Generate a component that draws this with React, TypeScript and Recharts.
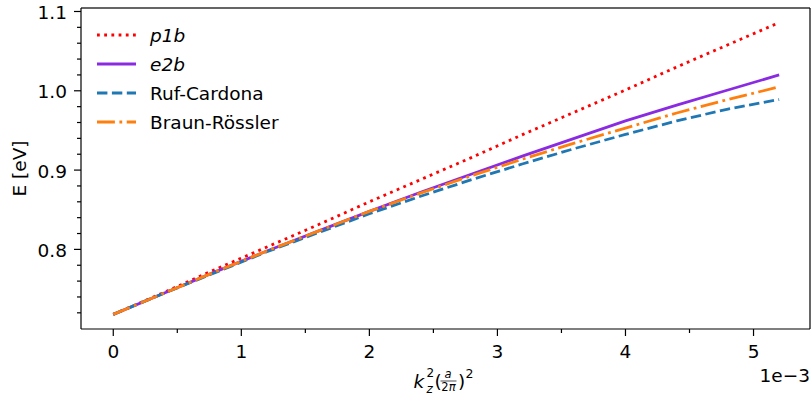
import React from 'react';
import { LineChart, Line, XAxis, YAxis, Label } from 'recharts';

// kz^2 (a/2pi)^2 values, plotted with a 1e-3 offset on the axis
const kz = [0, 0.0004, 0.0008, 0.0012, 0.0016, 0.002, 0.0024, 0.0028, 0.0032, 0.0036, 0.004, 0.0044, 0.0048, 0.0052];
const p1b = [0.718, 0.746, 0.775, 0.803, 0.831, 0.86, 0.888, 0.916, 0.945, 0.973, 1.001, 1.03, 1.058, 1.086];
const e2b = [0.718, 0.745, 0.772, 0.798, 0.823, 0.848, 0.872, 0.895, 0.918, 0.94, 0.962, 0.982, 1.001, 1.02];
const rufCardona = [0.718, 0.745, 0.771, 0.797, 0.821, 0.845, 0.867, 0.888, 0.908, 0.927, 0.945, 0.962, 0.977, 0.989];
const braunRoessler = [0.718, 0.745, 0.772, 0.798, 0.823, 0.848, 0.871, 0.893, 0.914, 0.934, 0.953, 0.972, 0.989, 1.005];

const xMajor = [0, 0.001, 0.002, 0.003, 0.004, 0.005];
const xMinor = [0.0005, 0.0015, 0.0025, 0.0035, 0.0045];
const yMajor = [0.8, 0.9, 1.0, 1.1];
const yMinor = [0.72, 0.74, 0.76, 0.78, 0.82, 0.84, 0.86, 0.88, 0.92, 0.94, 0.96, 0.98, 1.02, 1.04, 1.06, 1.08];

const data = kz.map((x, i) => ({
  kz: x,
  p1b: p1b[i],
  e2b: e2b[i],
  ruf: rufCardona[i],
  braun: braunRoessler[i],
}));

const series = [
  { key: 'p1b', name: 'p1b', italic: true, color: '#ff0000', dash: '2.8 4.4' },
  { key: 'e2b', name: 'e2b', italic: true, color: '#8a2be2', dash: undefined },
  { key: 'ruf', name: 'Ruf-Cardona', italic: false, color: '#1f77b4', dash: '10.4 4.5' },
  { key: 'braun', name: 'Braun-Rössler', italic: false, color: '#ff7f0e', dash: '17.9 4.5 2.8 4.5' },
];

const FONT = 'DejaVu Sans';
const FS = 18.5;
const X_DOMAIN = [-0.000252, 0.005441];
const Y_DOMAIN = [0.6996, 1.1044];
const isMajor = (v: number, majors: number[]) => majors.some((m) => Math.abs(m - v) < 1e-9);

const LeftTick = (props: any) => {
  const { x, y, payload } = props;
  const major = isMajor(payload.value, yMajor);
  return (
    <g>
      <line x1={x} x2={x - (major ? 7 : 4)} y1={y} y2={y} stroke="#000" strokeWidth={1.2} />
      {major && (
        <text x={x - 14} y={y + 7.5} textAnchor="end" fontFamily={FONT} fontSize={FS} fill="#000">
          {payload.value.toFixed(1)}
        </text>
      )}
    </g>
  );
};

const RightTick = (props: any) => {
  const { x, y } = props;
  return <line x1={x} x2={x - 3.5} y1={y} y2={y} stroke="#000" strokeWidth={1.2} />;
};

const BottomTick = (props: any) => {
  const { x, y, payload } = props;
  const major = isMajor(payload.value, xMajor);
  return (
    <g>
      <line x1={x} x2={x} y1={y} y2={y + (major ? 7 : 4)} stroke="#000" strokeWidth={1.2} />
      {major && (
        <text x={x} y={y + 29} textAnchor="middle" fontFamily={FONT} fontSize={FS} fill="#000">
          {Math.round(payload.value * 1000)}
        </text>
      )}
    </g>
  );
};

const XLabel = (props: any) => {
  const { viewBox } = props;
  const cx = viewBox.x + viewBox.width / 2;
  const by = viewBox.y + 59;
  return (
    <g fontFamily={FONT} fill="#000">
      <text x={cx - 32} y={by} fontSize={FS} fontStyle="italic">k</text>
      <text x={cx - 19} y={by - 11} fontSize={12}>2</text>
      <text x={cx - 19} y={by + 5} fontSize={12} fontStyle="italic">z</text>
      <text x={cx - 11} y={by} fontSize={FS}>(</text>
      <text x={cx + 2.5} y={by - 10} fontSize={11.5} fontStyle="italic" textAnchor="middle">a</text>
      <line x1={cx - 5} x2={cx + 11} y1={by - 7} y2={by - 7} stroke="#000" strokeWidth={0.7} />
      <text x={cx + 3} y={by + 3} fontSize={11.5} textAnchor="middle">
        2<tspan fontStyle="italic">π</tspan>
      </text>
      <text x={cx + 12.5} y={by} fontSize={FS}>)</text>
      <text x={cx + 20} y={by - 10} fontSize={12.5}>2</text>
      <text x={viewBox.x + viewBox.width} y={viewBox.y + 53} fontSize={FS} textAnchor="end">1e−3</text>
    </g>
  );
};

const YLabel = (props: any) => {
  const { viewBox } = props;
  const cy = viewBox.y + viewBox.height / 2;
  return (
    <text
      x={26}
      y={cy}
      transform={`rotate(-90, 26, ${cy})`}
      textAnchor="middle"
      fontFamily={FONT}
      fontSize={FS}
      fill="#000"
    >
      E [eV]
    </text>
  );
};

// overlay: top spine of the axes box and the legend
const Overlay = () => (
  <svg width={811} height={140} style={{ position: 'absolute', left: 0, top: 0, pointerEvents: 'none' }}>
    <rect x={81} y={7.4} width={729} height={1.2} fill="#000" />
    {series.map((s, i) => {
      const y = 35 + i * 29;
      return (
        <g key={s.key}>
          <line x1={97} x2={136} y1={y} y2={y} stroke={s.color} strokeWidth={2.8} strokeDasharray={s.dash} />
          <text
            x={150}
            y={y + 7}
            fontFamily={FONT}
            fontSize={FS}
            fontStyle={s.italic ? 'italic' : 'normal'}
            fill="#000"
          >
            {s.name}
          </text>
        </g>
      );
    })}
  </svg>
);

export default function App() {
  return (
    <div style={{ position: 'absolute', left: 0, top: 0, width: 811, height: 401, background: '#fff' }}>
      <LineChart width={811} height={401} data={data} margin={{ top: 8, right: 0, left: 0, bottom: 0 }}>
        <XAxis
          dataKey="kz"
          type="number"
          domain={X_DOMAIN}
          allowDataOverflow
          ticks={[...xMajor, ...xMinor]}
          interval={0}
          tickSize={0}
          tickMargin={0}
          tickLine={false}
          tick={<BottomTick />}
          height={72}
          axisLine={{ stroke: '#000', strokeWidth: 1.2 }}
        >
          <Label content={<XLabel />} />
        </XAxis>
        <YAxis
          type="number"
          domain={Y_DOMAIN}
          allowDataOverflow
          ticks={[...yMajor, ...yMinor]}
          interval={0}
          tickSize={0}
          tickMargin={0}
          tickLine={false}
          tick={<LeftTick />}
          width={81}
          axisLine={{ stroke: '#000', strokeWidth: 1.2 }}
        >
          <Label content={<YLabel />} />
        </YAxis>
        <YAxis
          yAxisId="right"
          orientation="right"
          type="number"
          domain={Y_DOMAIN}
          ticks={yMinor}
          interval={0}
          tickSize={0}
          tickMargin={0}
          tickLine={false}
          tick={<RightTick />}
          width={1}
          axisLine={{ stroke: '#000', strokeWidth: 1.2 }}
        />
        {series.map((s) => (
          <Line
            key={s.key}
            dataKey={s.key}
            name={s.name}
            stroke={s.color}
            strokeWidth={2.8}
            strokeDasharray={s.dash}
            dot={false}
            activeDot={false}
            type="linear"
            isAnimationActive={false}
          />
        ))}
      </LineChart>
      <Overlay />
    </div>
  );
}
